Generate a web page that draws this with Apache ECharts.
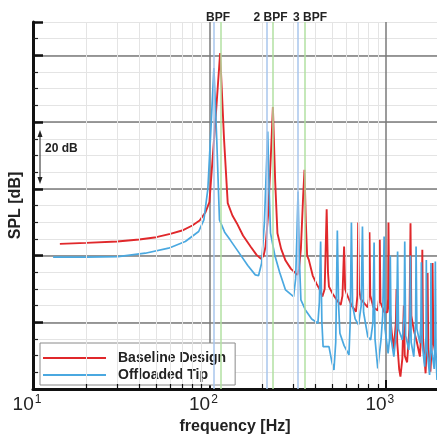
<!DOCTYPE html>
<html>
<head>
<meta charset="utf-8">
<script src="https://cdn.jsdelivr.net/npm/echarts@6/dist/echarts.min.js"></script>
<style>
html,body{margin:0;padding:0;background:#fff;}
#chart{width:437px;height:434px;}
</style>
</head>
<body>
<div id="chart"></div>
<script>
// ---- data ----
const seriesNames = ['Baseline Design', 'Offloaded Tip'];

const baselineFreq = [14.2, 20, 30, 40, 50, 60, 70, 80, 88, 95, 100, 108, 115, 121, 127, 135, 143, 155, 171, 185, 196, 203, 208, 215, 223, 229, 236, 243, 255, 270, 290, 315, 322, 330, 340, 346, 352, 358, 366, 385, 405, 420, 437, 450, 462, 470, 476, 500, 530, 555, 568, 580, 588, 600, 640, 677, 690, 697, 705, 720, 760, 790, 800, 808, 816, 850, 900, 915, 924, 932, 980, 1020, 1030, 1035, 1045, 1080, 1110, 1140, 1150, 1160, 1190, 1210, 1240, 1265, 1280, 1320, 1360, 1380, 1395, 1440, 1500, 1560, 1600, 1610, 1625, 1680, 1715, 1725, 1740, 1790, 1830, 1840, 1860, 1940];
const baselineSPL  = [43.5, 43.8, 44.2, 44.8, 45.5, 46.5, 47.5, 49, 50.5, 53, 56, 80, 100.7, 75, 55.7, 52, 49.7, 46, 42.7, 40.2, 39, 40, 42.7, 52, 70, 84.5, 62, 46.7, 42, 38.5, 36, 34.2, 36, 42, 58, 65.7, 50, 40, 38.7, 34, 31.5, 30, 27.7, 30, 53.9, 35, 30.7, 28.5, 26.5, 25.2, 28, 42.7, 30, 28.5, 25, 23.2, 28, 49.9, 30, 27, 25.5, 24.5, 27, 47, 28, 24.5, 23.5, 27, 44.7, 26, 23, 23, 27, 49.9, 25, 17, 12, 20, 30, 14, 6, 3.7, 9, 25, 10, 8, 18, 49.7, 22, 17.7, 14, 9.7, 20, 41.7, 15, 4.7, 15, 34.8, 12, 5.2, 15, 37.8, 14, 8.7];

const offloadedFreq = [13, 20, 30.4, 43.3, 58.7, 73, 86.9, 93, 98, 102, 106, 110, 114, 122, 131, 150, 165, 182, 190, 197.6, 205, 214, 218, 222, 235, 250, 270, 300, 308, 313, 318, 323, 330, 350, 380, 412, 420, 427, 434, 441, 476, 495, 508, 520, 531, 540, 549, 580, 618, 628, 638, 648, 670, 700, 725, 737, 748, 790, 820, 845, 858, 868, 900, 940, 960, 978, 990, 1030, 1050, 1060, 1072, 1110, 1150, 1166, 1180, 1240, 1270, 1280, 1295, 1350, 1370, 1378, 1392, 1440, 1475, 1484, 1500, 1560, 1580, 1590, 1605, 1660, 1690, 1696, 1710, 1770, 1795, 1802, 1815, 1880, 1900, 1908, 1925, 1950];
const offloadedSPL  = [39.5, 39.5, 39.7, 40.7, 42.2, 44.2, 47.2, 50.7, 60, 78, 96.2, 75, 50.7, 47, 44.7, 40.2, 37, 34.2, 34, 37.7, 50, 77.2, 60, 46.7, 40, 35, 29.7, 27.7, 33, 45, 59.2, 40, 26.7, 23.7, 21, 19.7, 26, 44.2, 20, 12.7, 12.7, 8, 5.7, 14, 47.5, 25, 16.7, 13, 10.2, 20, 49.9, 25, 21, 19.2, 25, 48.7, 23, 15.7, 14.7, 20, 43.9, 15, 6.2, 15, 22, 45.7, 18, 10.7, 15, 40, 15, 9.7, 18, 41.2, 18, 14.7, 22, 44.2, 16, 11.7, 20, 40, 14, 9.7, 20, 42.7, 18, 13.7, 20, 38, 14, 6.7, 16, 38.7, 12, 4.2, 14, 37.8, 12, 6, 16, 38.2, 10, 2.7];

// blade passing frequency markers
const bpfOffloaded = [106, 212, 318];
const bpfBaseline = [115.5, 230, 345];
const bpfLabelFreq = [112, 222, 372];
const bpfLabels = ['BPF', '2 BPF', '3 BPF'];

// axis settings
const xMin = 10, xMax = 1950;
const yMin = 0, yMax = 110, yMajor = 20, yMinor = 5;
const xMinorTicks = [20, 30, 40, 50, 60, 70, 80, 90, 200, 300, 400, 500, 600, 700, 800, 900];

const FONT = 'Liberation Sans, Arial, Helvetica, sans-serif';
const zip = (a, b) => a.map((v, i) => [v, b[i]]);

const chart = echarts.init(document.getElementById('chart'), null, {renderer: 'canvas'});

const option = {
  animation: false,
  backgroundColor: '#fff',
  textStyle: {fontFamily: FONT},
  grid: {left: 33, top: 22, right: 0, bottom: 45, containLabel: false, outerBoundsMode: 'none'},
  xAxis: {
    type: 'log', logBase: 10, min: xMin, max: xMax,
    name: 'frequency [Hz]', nameLocation: 'middle', nameGap: 23,
    nameTextStyle: {fontFamily: FONT, fontWeight: 'bold', fontSize: 16, color: '#222'},
    axisLine: {show: true, lineStyle: {color: '#111', width: 3}},
    axisTick: {show: true, inside: true, length: 9, lineStyle: {color: '#111', width: 2}},
    splitLine: {show: true, showMinLine: false, showMaxLine: false, lineStyle: {color: '#7a7a7a', width: 1.5}},
    axisLabel: {
      margin: 5, showMaxLabel: false,
      formatter: v => {
        const e = Math.round(Math.log10(v));
        return '{b|10}{s|' + e + '}{sp|}';
      },
      rich: {
        b: {fontFamily: FONT, fontSize: 19, color: '#222', verticalAlign: 'bottom'},
        s: {fontFamily: FONT, fontSize: 12, color: '#222', verticalAlign: 'top', padding: [0, 0, 8, 1]},
        sp: {width: 12}
      }
    }
  },
  yAxis: [
    {
      type: 'value', min: yMin, max: yMax, interval: yMinor, position: 'left',
      axisLine: {show: false},
      axisLabel: {show: false},
      axisTick: {show: true, inside: true, length: 5, lineStyle: {color: '#222', width: 1.2}},
      splitLine: {show: true, lineStyle: {color: '#e4e4e4', width: 1}}
    },
    {
      type: 'value', min: yMin, max: yMax, interval: yMajor, position: 'left',
      name: 'SPL [dB]', nameLocation: 'middle', nameGap: 9, nameRotate: 90,
      nameTextStyle: {fontFamily: FONT, fontWeight: 'bold', fontSize: 16, color: '#222'},
      axisLine: {show: true, lineStyle: {color: '#111', width: 3}},
      axisLabel: {show: false},
      axisTick: {show: true, inside: true, length: 10, lineStyle: {color: '#111', width: 2.5}},
      splitLine: {show: true, showMinLine: false, showMaxLine: false, lineStyle: {color: '#7a7a7a', width: 1.5}}
    }
  ],
  legend: {
    data: seriesNames,
    orient: 'vertical',
    left: 40, top: 343,
    icon: 'rect',
    itemWidth: 63, itemHeight: 2, itemGap: 3,
    padding: [8, 9, 3, 3],
    backgroundColor: '#fff',
    borderColor: '#8a8a8a', borderWidth: 1,
    textStyle: {fontFamily: FONT, fontWeight: 'bold', fontSize: 14, lineHeight: 14, color: '#222', padding: [0, 0, 0, 7]}
  },
  series: [
    { // minor vertical grid lines
      type: 'line', data: [], silent: true, z: -1, yAxisIndex: 0,
      markLine: {
        silent: true, symbol: ['none', 'none'], label: {show: false},
        lineStyle: {color: '#e4e4e4', width: 1, type: 'solid'},
        data: xMinorTicks.map(f => ({xAxis: f}))
      }
    },
    { // minor x ticks on bottom axis
      type: 'line', data: [], silent: true, z: 5, yAxisIndex: 0,
      markLine: {
        silent: true, symbol: ['none', 'none'], label: {show: false},
        lineStyle: {color: '#111', width: 1.2, type: 'solid'},
        data: xMinorTicks.map(f => [{coord: [f, yMin]}, {coord: [f, yMin + 1.5]}])
      }
    },
    { // BPF lines
      type: 'line', data: [], silent: true, z: 1, yAxisIndex: 0,
      markLine: {
        silent: true, symbol: ['none', 'none'], label: {show: false},
        data: bpfOffloaded.map(f => ({xAxis: f, lineStyle: {color: '#a9c6ec', width: 1.5, type: 'solid'}}))
          .concat(bpfBaseline.map(f => ({xAxis: f, lineStyle: {color: '#b2e0a2', width: 1.5, type: 'solid'}})))
      }
    },
    { // BPF labels
      type: 'line', data: [], silent: true, z: 6, yAxisIndex: 0,
      markLine: {
        silent: true, symbol: ['none', 'none'],
        lineStyle: {color: 'rgba(0,0,0,0)', width: 0.1, type: 'solid'},
        label: {show: true, position: 'end', distance: -2, fontFamily: FONT, fontWeight: 'bold', fontSize: 12, color: '#222'},
        data: bpfLabelFreq.map((f, i) => ({xAxis: f, label: {show: true, formatter: bpfLabels[i]}}))
      }
    },
    {
      name: seriesNames[0], type: 'line', yAxisIndex: 0, z: 3,
      data: zip(baselineFreq, baselineSPL),
      symbol: 'none', showSymbol: false,
      lineStyle: {color: '#e0282b', width: 1.9},
      itemStyle: {color: '#e0282b'}
    },
    {
      name: seriesNames[1], type: 'line', yAxisIndex: 0, z: 4,
      data: zip(offloadedFreq, offloadedSPL),
      symbol: 'none', showSymbol: false,
      lineStyle: {color: '#4aa8e0', width: 1.7},
      itemStyle: {color: '#4aa8e0'}
    }
  ],
  graphic: [
    {type: 'line', shape: {x1: 40, y1: 134, x2: 40, y2: 180}, style: {stroke: '#222', lineWidth: 1}, z: 10},
    {type: 'polygon', shape: {points: [[37.5, 137], [40, 130], [42.5, 137]]}, style: {fill: '#222'}, z: 10},
    {type: 'polygon', shape: {points: [[37.5, 177], [40, 184], [42.5, 177]]}, style: {fill: '#222'}, z: 10},
    {type: 'text', left: 45, top: 143, style: {text: '20 dB', font: 'bold 12px ' + FONT, fill: '#222'}, z: 10}
  ]
};

chart.setOption(option);
</script>
</body>
</html>
